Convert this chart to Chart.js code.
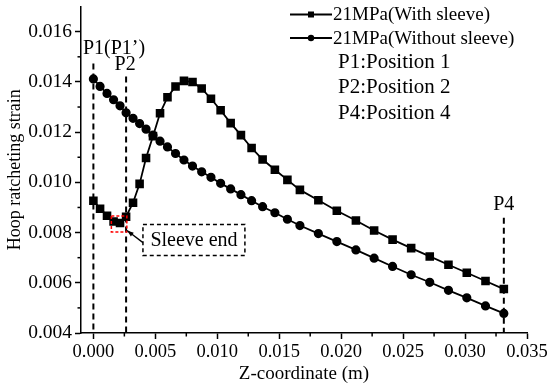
<!DOCTYPE html>
<html><head><meta charset="utf-8">
<script src="https://cdn.jsdelivr.net/npm/chart.js@4.4.1/dist/chart.umd.min.js"></script>
<style>html,body{margin:0;padding:0;background:#fff}</style>
</head><body>
<canvas id="c" width="550" height="388" style="display:block;width:550px;height:388px"></canvas>
<script>
// ---- data ----
const zCoord = [0, 0.00054, 0.00110, 0.00163, 0.00215, 0.00264, 0.00320, 0.00373, 0.00425, 0.00481,
  0.00538, 0.00598, 0.00663, 0.00731, 0.00800, 0.00874, 0.00949, 0.01027, 0.01108, 0.01191,
  0.01277, 0.01366, 0.01465, 0.01566, 0.01667, 0.01816, 0.01965, 0.02119, 0.02266, 0.02415,
  0.02565, 0.02715, 0.02866, 0.03014, 0.03165, 0.03313];
const strainWithSleeve = [0.00927, 0.00895, 0.00867, 0.00844, 0.00838, 0.00863, 0.00919, 0.00994, 0.01097, 0.01184,
  0.01275, 0.01339, 0.01382, 0.01404, 0.01400, 0.01374, 0.01333, 0.01287, 0.01236, 0.01188,
  0.01137, 0.01091, 0.01050, 0.01010, 0.00970, 0.00929, 0.00887, 0.00848, 0.00808, 0.00772,
  0.00738, 0.00705, 0.00672, 0.00640, 0.00607, 0.00575];
const strainWithoutSleeve = [0.01412, 0.01382, 0.01354, 0.01329, 0.01305, 0.01277, 0.01255, 0.01234, 0.01212, 0.01188,
  0.01164, 0.01141, 0.01115, 0.01089, 0.01065, 0.01042, 0.01020, 0.00996, 0.00974, 0.00951,
  0.00927, 0.00903, 0.00879, 0.00853, 0.00828, 0.00796, 0.00764, 0.00731, 0.00698, 0.00665,
  0.00632, 0.00602, 0.00570, 0.00540, 0.00508, 0.00478];
const seriesNames = ['21MPa(With sleeve)', '21MPa(Without sleeve)'];
const xMajorTicks = [0, 0.005, 0.010, 0.015, 0.020, 0.025, 0.030, 0.035];
const xMinorTicks = [0.0025, 0.0075, 0.0125, 0.0175, 0.0225, 0.0275, 0.0325];
const yMajorTicks = [0.004, 0.006, 0.008, 0.010, 0.012, 0.014, 0.016];
const yMinorTicks = [0.005, 0.007, 0.009, 0.011, 0.013, 0.015];
const positionNotes = ['P1:Position 1', 'P2:Position 2', 'P4:Position 4'];
const markerNames = ['P1(P1\u2019)', 'P2', 'P4'];
const markerZ = [0, 0.00264, 0.03313];
const calloutText = 'Sleeve end';

const SERIF = "'Liberation Serif','Times New Roman',serif";

function toPts(xs, ys) { return xs.map((v, i) => ({x: v, y: ys[i]})); }

const deco = {
  id: 'deco',
  afterDraw(chart) {
    const {ctx} = chart;
    const x = chart.scales.x, y = chart.scales.y;
    const X = v => x.getPixelForValue(v), Y = v => y.getPixelForValue(v);
    ctx.save();
    ctx.strokeStyle = '#000'; ctx.fillStyle = '#000';
    // minor ticks
    ctx.lineWidth = 1.5;
    xMinorTicks.forEach(v => { const p = X(v); ctx.beginPath(); ctx.moveTo(p, y.bottom); ctx.lineTo(p, y.bottom + 3.5); ctx.stroke(); });
    yMinorTicks.forEach(v => { const p = Y(v); ctx.beginPath(); ctx.moveTo(x.left, p); ctx.lineTo(x.left - 3.5, p); ctx.stroke(); });

    // dashed position lines
    const lineTops = [0.01473, 0.01422, 0.00859];
    const labelPos = [[0.00167, 0.01533], [0.00256, 0.01469], [0.03312, 0.00911]];
    ctx.lineWidth = 2; ctx.setLineDash([6, 4]);
    markerZ.forEach((z, i) => {
      const p = X(z);
      ctx.beginPath(); ctx.moveTo(p, Y(lineTops[i])); ctx.lineTo(p, y.bottom); ctx.stroke();
    });
    ctx.setLineDash([]);
    ctx.font = '20px ' + SERIF; ctx.textAlign = 'center'; ctx.textBaseline = 'middle';
    markerNames.forEach((t, i) => ctx.fillText(t, X(labelPos[i][0]), Y(labelPos[i][1])));

    // red dashed box around sleeve end
    ctx.strokeStyle = '#ff0000'; ctx.lineWidth = 1.5; ctx.setLineDash([3, 2]);
    const rx0 = X(0.00145), rx1 = X(0.00270), ry0 = Y(0.00866), ry1 = Y(0.00802);
    ctx.strokeRect(rx0, ry0, rx1 - rx0, ry1 - ry0);

    // callout box
    ctx.strokeStyle = '#000'; ctx.setLineDash([4, 3]);
    const bx0 = X(0.00400), bx1 = X(0.01223), by0 = Y(0.00832), by1 = Y(0.00709);
    ctx.strokeRect(bx0, by0, bx1 - bx0, by1 - by0);
    ctx.setLineDash([]);
    ctx.font = '20px ' + SERIF;
    ctx.fillText(calloutText, X(0.00812), Y(0.00768));
    // arrow
    const ax0 = X(0.00400), ay0 = Y(0.00760), ax1 = X(0.00272), ay1 = Y(0.00808);
    ctx.lineWidth = 1.3;
    ctx.beginPath(); ctx.moveTo(ax0, ay0); ctx.lineTo(ax1, ay1); ctx.stroke();
    const ang = Math.atan2(ay1 - ay0, ax1 - ax0);
    ctx.beginPath();
    ctx.moveTo(ax1, ay1);
    ctx.lineTo(ax1 - 7 * Math.cos(ang - 0.35), ay1 - 7 * Math.sin(ang - 0.35));
    ctx.lineTo(ax1 - 7 * Math.cos(ang + 0.35), ay1 - 7 * Math.sin(ang + 0.35));
    ctx.closePath(); ctx.fill();

    // legend
    ctx.textAlign = 'left';
    ctx.font = '19px ' + SERIF;
    chart.data.datasets.forEach((ds, i) => {
      const cy = 14.5 + i * 23.5;
      ctx.strokeStyle = ds.borderColor; ctx.lineWidth = ds.borderWidth;
      ctx.beginPath(); ctx.moveTo(290, cy); ctx.lineTo(332, cy); ctx.stroke();
      ctx.fillStyle = ds.backgroundColor;
      if (ds.pointStyle === 'rect') ctx.fillRect(311 - 3, cy - 3, 6, 6);
      else { ctx.beginPath(); ctx.arc(311, cy, 3.2, 0, Math.PI * 2); ctx.fill(); }
      ctx.fillStyle = '#000';
      ctx.fillText(ds.label, 333, cy + 1);
    });
    ctx.font = '21px ' + SERIF;
    positionNotes.forEach((t, i) => ctx.fillText(t, 338, 62 + i * 25.5));
    ctx.restore();
  }
};

new Chart(document.getElementById('c'), {
  type: 'scatter',
  data: {
    datasets: [
      {label: seriesNames[0], data: toPts(zCoord, strainWithSleeve), showLine: true,
       borderColor: '#000', backgroundColor: '#000', borderWidth: 1.8,
       pointStyle: 'rect', pointRadius: 4.8, pointHoverRadius: 4.8},
      {label: seriesNames[1], data: toPts(zCoord, strainWithoutSleeve), showLine: true,
       borderColor: '#000', backgroundColor: '#000', borderWidth: 1.8,
       pointStyle: 'circle', pointRadius: 3.7, pointHoverRadius: 3.7}
    ]
  },
  options: {
    responsive: false, animation: false, devicePixelRatio: 1,
    layout: {padding: {left: 0, right: 23, top: 5, bottom: 0}},
    plugins: {legend: {display: false}, tooltip: {enabled: false}},
    scales: {
      x: {
        type: 'linear', min: -0.001, max: 0.035,
        afterBuildTicks: s => { s.ticks = xMajorTicks.map(v => ({value: v})); },
        afterFit: s => { s.height = 55; s.paddingLeft = 0; s.paddingRight = 0; },
        ticks: {color: '#000', font: {family: SERIF, size: 18.5}, padding: 2, maxRotation: 0,
                callback: v => Number(v).toFixed(3)},
        grid: {display: true, drawOnChartArea: false, drawTicks: true, tickLength: 6, tickColor: '#000', tickWidth: 1.5},
        border: {display: true, color: '#000', width: 1.5},
        title: {display: true, text: 'Z-coordinate (m)', color: '#000', font: {family: SERIF, size: 19}, padding: {top: 0, bottom: 3}}
      },
      y: {
        type: 'linear', min: 0.004, max: 0.017,
        afterBuildTicks: s => { s.ticks = yMajorTicks.map(v => ({value: v})); },
        afterFit: s => { s.width = 81; s.paddingTop = 0; s.paddingBottom = 0; },
        ticks: {color: '#000', font: {family: SERIF, size: 19.5}, padding: 3,
                callback: v => Number(v).toFixed(3)},
        grid: {display: true, drawOnChartArea: false, drawTicks: true, tickLength: 6, tickColor: '#000', tickWidth: 1.5},
        border: {display: true, color: '#000', width: 1.5},
        title: {display: true, text: 'Hoop ratcheting strain', color: '#000', font: {family: SERIF, size: 18}, padding: {top: 4, bottom: 0}}
      }
    }
  },
  plugins: [deco]
});
</script>
</body></html>
